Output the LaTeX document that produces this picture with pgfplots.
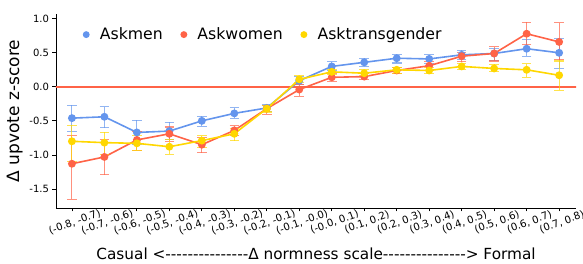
\documentclass[border=0pt]{standalone}
\usepackage{pgfplots}
\pgfplotsset{compat=1.18}
\usepackage{fontspec}
\setmainfont{DejaVu Sans}[Ligatures=TeXOff]
\definecolor{cmen}{HTML}{6495ED}
\definecolor{cwomen}{HTML}{FF6347}
\definecolor{ctrans}{HTML}{FFD700}
\begin{document}
\begin{tikzpicture}
\begin{axis}[
  scale only axis,
  width=520pt, height=194pt,
  xmin=-0.49, xmax=15.52,
  ymin=-1.78, ymax=1.07,
  axis x line*=bottom, axis y line*=left,
  axis line style={line width=0.8pt},
  tick style={black, line width=0.8pt},
  tick align=outside,
  major tick length=3.5pt,
  xtick={0,...,15},
  xticklabels={{(-0.8, -0.7)},{(-0.7, -0.6)},{(-0.6, -0.5)},{(-0.5, -0.4)},{(-0.4, -0.3)},{(-0.3, -0.2)},{(-0.2, -0.1)},{(-0.1, -0.0)},{(-0.0, 0.1)},{(0.1, 0.2)},{(0.2, 0.3)},{(0.3, 0.4)},{(0.4, 0.5)},{(0.5, 0.6)},{(0.6, 0.7)},{(0.7, 0.8)}},
  ytick={-1.5,-1,-0.5,0,0.5,1},
  yticklabel style={/pgf/number format/fixed, /pgf/number format/fixed zerofill, /pgf/number format/precision=1, font=\fontsize{10}{12}\selectfont},
  /pgf/number format/assume math mode=true,
  xticklabel style={rotate=20, anchor=north, font=\fontsize{10.2}{12}\selectfont, yshift=-3pt, xshift=-1pt},
  ylabel={Δ upvote z-score},
  ylabel style={font=\fontsize{17}{19}\selectfont},
  xlabel={Casual <---------------Δ normness scale---------------> Formal},
  xlabel style={font=\fontsize{15.3}{17}\selectfont, yshift=-4pt},
  legend columns=3,
  legend style={draw=none, fill=none, at={(0.047,0.95)}, anchor=north west, font=\fontsize{15.7}{18}\selectfont, /tikz/every even column/.append style={column sep=16.5pt}, /tikz/every odd column/.append style={column sep=9pt}},
  legend image code/.code={\draw[#1, mark size=2.6pt] plot coordinates {(0.2cm,0cm)};},
  every axis plot/.append style={line width=1.6pt, mark=*, mark size=3.1pt},
  error bars/y dir=both, error bars/y explicit,
  error bars/error bar style={line width=1.1pt, opacity=0.7},
  error bars/error mark options={rotate=90, mark size=4.8pt, line width=1.1pt, opacity=0.7},
]
\addplot[cwomen, line width=1.6pt, mark=none, forget plot, error bars/y dir=none] coordinates {(-1,0) (18,0)};
\addplot[cmen, mark options={fill=cmen}] coordinates {
(0,-0.46) += (0,0.19) -= (0,0.19)
(1,-0.44) += (0,0.15) -= (0,0.16)
(2,-0.67) += (0,0.18) -= (0,0.18)
(3,-0.65) += (0,0.13) -= (0,0.13)
(4,-0.50) += (0,0.07) -= (0,0.08)
(5,-0.39) += (0,0.08) -= (0,0.07)
(6,-0.31) += (0,0.05) -= (0,0.05)
(7,0.09) += (0,0.06) -= (0,0.06)
(8,0.30) += (0,0.07) -= (0,0.06)
(9,0.36) += (0,0.06) -= (0,0.06)
(10,0.42) += (0,0.06) -= (0,0.07)
(11,0.41) += (0,0.06) -= (0,0.07)
(12,0.47) += (0,0.07) -= (0,0.07)
(13,0.49) += (0,0.07) -= (0,0.10)
(14,0.56) += (0,0.13) -= (0,0.11)
(15,0.50) += (0,0.21) -= (0,0.23)
};
\addlegendentry{Askmen}
\addplot[cwomen, mark options={fill=cwomen}] coordinates {
(0,-1.13) += (0,0.42) -= (0,0.52)
(1,-1.03) += (0,0.25) -= (0,0.26)
(2,-0.78) += (0,0.13) -= (0,0.15)
(3,-0.69) += (0,0.10) -= (0,0.11)
(4,-0.85) += (0,0.10) -= (0,0.12)
(5,-0.64) += (0,0.07) -= (0,0.08)
(6,-0.32) += (0,0.05) -= (0,0.08)
(7,-0.04) += (0,0.08) -= (0,0.10)
(8,0.14) += (0,0.05) -= (0,0.06)
(9,0.15) += (0,0.04) -= (0,0.04)
(10,0.24) += (0,0.04) -= (0,0.05)
(11,0.31) += (0,0.06) -= (0,0.07)
(12,0.45) += (0,0.06) -= (0,0.08)
(13,0.49) += (0,0.10) -= (0,0.11)
(14,0.78) += (0,0.17) -= (0,0.16)
(15,0.66) += (0,0.28) -= (0,0.26)
};
\addlegendentry{Askwomen}
\addplot[ctrans, mark options={fill=ctrans}] coordinates {
(0,-0.80) += (0,0.23) -= (0,0.30)
(1,-0.82) += (0,0.15) -= (0,0.17)
(2,-0.83) += (0,0.11) -= (0,0.11)
(3,-0.88) += (0,0.11) -= (0,0.11)
(4,-0.79) += (0,0.07) -= (0,0.10)
(5,-0.69) += (0,0.08) -= (0,0.10)
(6,-0.32) += (0,0.05) -= (0,0.05)
(7,0.11) += (0,0.05) -= (0,0.05)
(8,0.22) += (0,0.04) -= (0,0.04)
(9,0.20) += (0,0.05) -= (0,0.04)
(10,0.25) += (0,0.04) -= (0,0.06)
(11,0.24) += (0,0.05) -= (0,0.05)
(12,0.30) += (0,0.04) -= (0,0.05)
(13,0.27) += (0,0.06) -= (0,0.05)
(14,0.25) += (0,0.09) -= (0,0.11)
(15,0.17) += (0,0.21) -= (0,0.22)
};
\addlegendentry{Asktransgender}
\end{axis}
\pgfresetboundingbox
\path ([shift={(-56pt,-56pt)}]current axis.south west) rectangle ([shift={(7pt,14pt)}]current axis.north east);
\end{tikzpicture}
\end{document}
